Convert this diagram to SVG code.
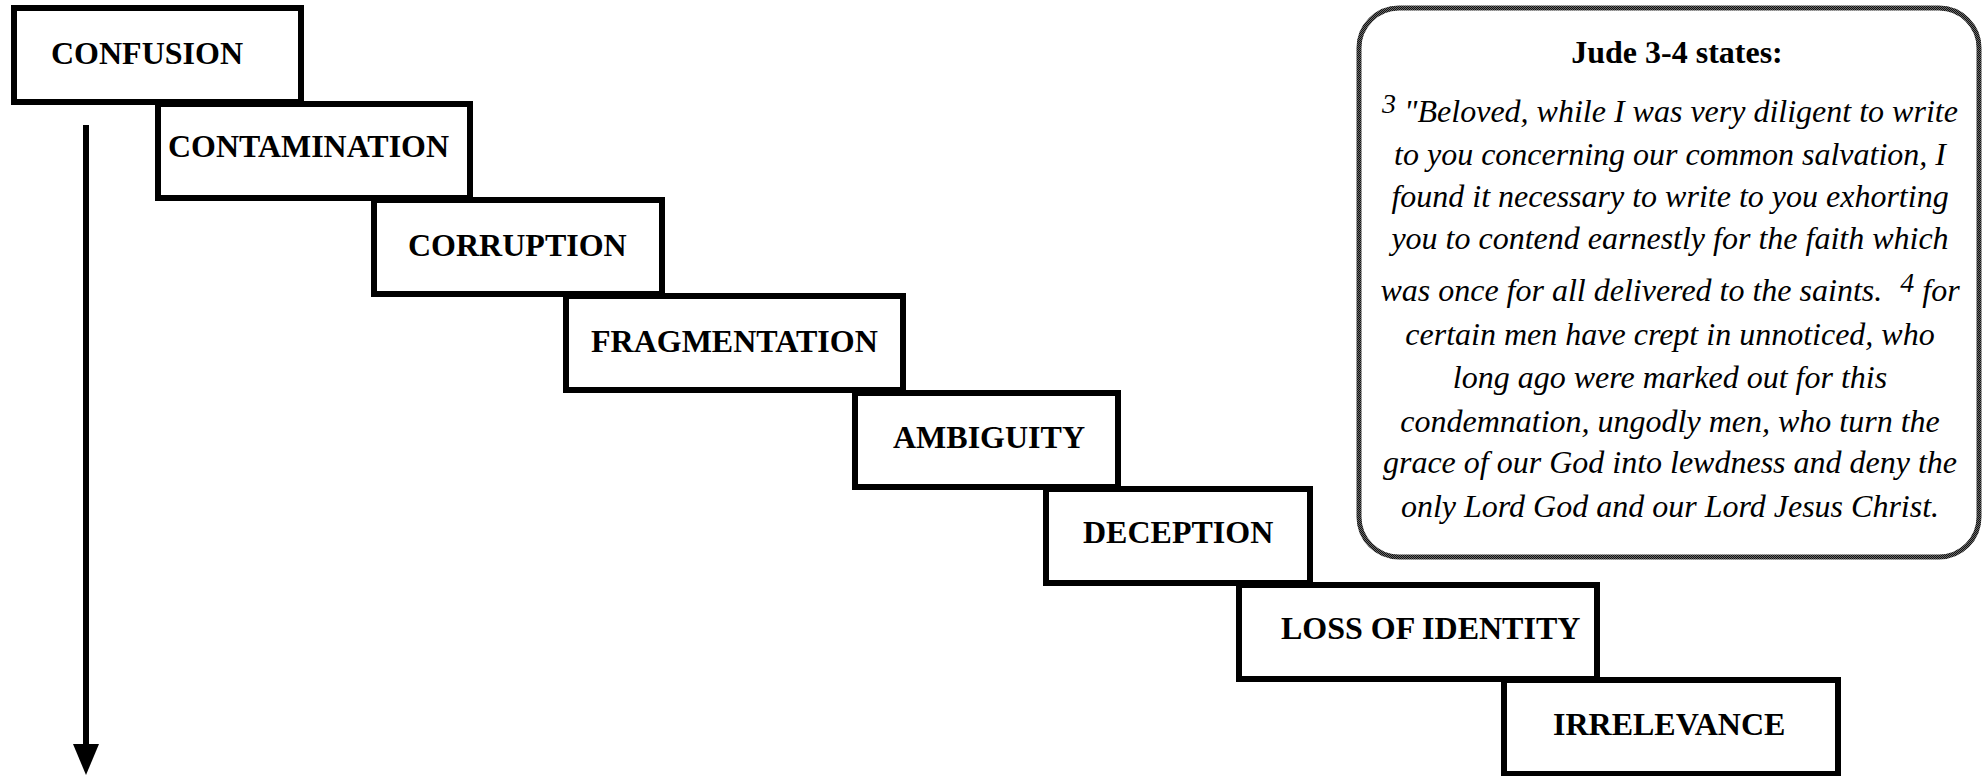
<svg xmlns="http://www.w3.org/2000/svg" width="1988" height="776" viewBox="0 0 1988 776">
  <style>
    .box { fill: #ffffff; stroke: #000000; stroke-width: 6; }
    .lbl { font-family: "Liberation Serif", "Times New Roman", serif; font-weight: bold; font-size: 32px; fill: #000000; }
    .head { font-family: "Liberation Serif", "Times New Roman", serif; font-weight: bold; font-size: 32px; fill: #000000; text-anchor: middle; }
    .verse { font-family: "Liberation Serif", "Times New Roman", serif; font-style: italic; font-size: 32px; fill: #000000; text-anchor: middle; }
    .sup { font-size: 28px; }
  </style>
  <defs>
    <pattern id="checker" width="2" height="2" patternUnits="userSpaceOnUse">
      <rect width="2" height="2" fill="#6a6a6a"/>
      <rect width="1" height="1" fill="#111111"/>
      <rect x="1" y="1" width="1" height="1" fill="#111111"/>
    </pattern>
  </defs>
  <rect width="1988" height="776" fill="#ffffff"/>

  <g id="connectors">
    <line x1="86" y1="125" x2="86" y2="744" stroke="#000000" stroke-width="6"/>
    <path d="M73,744 L99,744 L86,775 Z" fill="#000000"/>
  </g>

  <g id="node-confusion">
    <rect class="box" x="14" y="8" width="287" height="94"/>
    <text class="lbl" x="51" y="64">CONFUSION</text>
  </g>
  <g id="node-contamination">
    <rect class="box" x="158" y="104" width="312" height="94"/>
    <text class="lbl" x="168" y="157" textLength="281" lengthAdjust="spacingAndGlyphs">CONTAMINATION</text>
  </g>
  <g id="node-corruption">
    <rect class="box" x="374" y="200" width="288" height="94"/>
    <text class="lbl" x="408" y="256">CORRUPTION</text>
  </g>
  <g id="node-fragmentation">
    <rect class="box" x="566" y="296" width="337" height="94"/>
    <text class="lbl" x="591" y="352">FRAGMENTATION</text>
  </g>
  <g id="node-ambiguity">
    <rect class="box" x="855" y="393" width="263" height="94"/>
    <text class="lbl" x="893" y="448">AMBIGUITY</text>
  </g>
  <g id="node-deception">
    <rect class="box" x="1046" y="489" width="264" height="94"/>
    <text class="lbl" x="1083" y="543">DECEPTION</text>
  </g>
  <g id="node-loss-of-identity">
    <rect class="box" x="1239" y="585" width="358" height="94"/>
    <text class="lbl" x="1281" y="639">LOSS OF IDENTITY</text>
  </g>
  <g id="node-irrelevance">
    <rect class="box" x="1504" y="680" width="334" height="94"/>
    <text class="lbl" x="1553" y="735">IRRELEVANCE</text>
  </g>

  <g id="node-jude">
    <rect x="1359" y="8" width="620" height="549" rx="40" ry="40" fill="#ffffff" stroke="url(#checker)" stroke-width="5"/>
    <text class="head" x="1677" y="63">Jude 3-4 states:</text>
    <text class="verse" x="1670" y="122"><tspan class="sup" dy="-9">3</tspan><tspan dy="9"> "Beloved, while I was very diligent to write</tspan></text>
    <text class="verse" x="1670" y="165">to you concerning our common salvation, I</text>
    <text class="verse" x="1670" y="207">found it necessary to write to you exhorting</text>
    <text class="verse" x="1670" y="249">you to contend earnestly for the faith which</text>
    <text class="verse" x="1670" y="301">was once for all delivered to the saints.<tspan class="sup" dx="18" dy="-9">4</tspan><tspan dy="9"> for</tspan></text>
    <text class="verse" x="1670" y="345">certain men have crept in unnoticed, who</text>
    <text class="verse" x="1670" y="388">long ago were marked out for this</text>
    <text class="verse" x="1670" y="432">condemnation, ungodly men, who turn the</text>
    <text class="verse" x="1670" y="473">grace of our God into lewdness and deny the</text>
    <text class="verse" x="1670" y="517">only Lord God and our Lord Jesus Christ.</text>
  </g>
</svg>
